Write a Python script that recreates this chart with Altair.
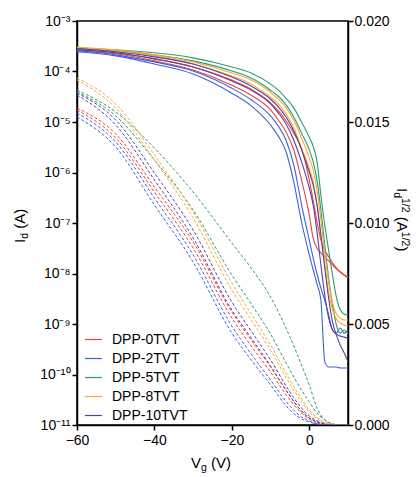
import altair as alt
import pandas as pd

DEVICES = ["DPP-0TVT", "DPP-2TVT", "DPP-5TVT", "DPP-8TVT", "DPP-10TVT"]
COLORS = ["#E8453C", "#3E62D6", "#2E9C6E", "#F2A93B", "#5C3F9E"]

# gate voltage grids (V)
VG_SOLID = [-60, -50, -40, -30, -20, -15, -10, -8, -6, -4, -2, 0, 1, 2, 3, 4, 5, 6, 7, 8, 9, 10]
VG_DASH = [-60, -50, -40, -30, -20, -15, -10, -5, -2, 0, 2, 4, 6, 8, 10]

# log10(Id / A), read from the left (log) axis, two sweeps per device
LOG_0TVT_A = [-3.57, -3.63, -3.75, -3.91, -4.17, -4.35, -4.62, -4.78, -4.98, -5.22, -5.52, -6.15, -6.55, -6.98, -7.34, -7.54, -7.67, -7.79, -7.89, -7.97, -8.03, -8.07]
LOG_0TVT_B = [-3.59, -3.65, -3.79, -3.97, -4.27, -4.47, -4.76, -4.96, -5.20, -5.55, -6.15, -6.84, -7.30, -7.50, -7.59, -7.67, -7.75, -7.83, -7.91, -7.97, -8.03, -8.09]
LOG_2TVT_A = [-3.59, -3.67, -3.81, -3.99, -4.33, -4.56, -4.88, -5.08, -5.36, -5.85, -6.64, -7.34, -7.69, -8.01, -8.29, -8.53, -8.82, -9.12, -9.18, -9.08, -9.18, -9.12]
LOG_2TVT_B = [-3.61, -3.69, -3.85, -4.05, -4.43, -4.68, -5.06, -5.28, -5.59, -6.19, -6.98, -7.63, -7.93, -8.21, -8.53, -9.75, -9.85, -9.85, -9.85, -9.87, -9.87, -9.87]
LOG_5TVT_A = [-3.54, -3.57, -3.63, -3.73, -3.91, -4.03, -4.25, -4.37, -4.53, -4.72, -5.00, -5.30, -5.48, -5.78, -6.45, -7.04, -7.54, -8.03, -8.47, -8.72, -8.80, -8.82]
LOG_5TVT_B = [-3.54, -3.59, -3.67, -3.79, -3.99, -4.13, -4.37, -4.49, -4.66, -4.90, -5.22, -5.55, -5.79, -6.15, -6.74, -7.44, -8.09, -8.62, -9.02, -9.18, -9.12, -9.20]
LOG_8TVT_A = [-3.52, -3.57, -3.67, -3.81, -4.03, -4.17, -4.41, -4.55, -4.72, -4.96, -5.32, -5.71, -5.95, -6.35, -6.94, -7.57, -8.17, -8.58, -8.80, -8.88, -8.92, -8.92]
LOG_8TVT_B = [-3.52, -3.59, -3.69, -3.85, -4.09, -4.25, -4.51, -4.64, -4.84, -5.12, -5.52, -5.91, -6.19, -6.64, -7.24, -7.83, -8.37, -8.72, -8.90, -8.98, -9.02, -9.04]
LOG_10TVT_A = [-3.55, -3.61, -3.71, -3.85, -4.11, -4.29, -4.55, -4.70, -4.90, -5.18, -5.55, -5.99, -6.25, -6.64, -7.24, -7.89, -8.49, -8.96, -9.22, -9.42, -9.57, -9.75]
LOG_10TVT_B = [-3.57, -3.63, -3.75, -3.91, -4.19, -4.37, -4.64, -4.82, -5.04, -5.36, -5.79, -6.31, -6.64, -7.18, -7.83, -8.43, -8.88, -9.12, -9.20, -9.24, -9.26, -9.28]

SQ_0TVT_A = [0.01569, 0.01441, 0.01178, 0.00906, 0.00559, 0.00421, 0.00287, 0.00144, 0.00069, 0.00035, 0.00015, 0.00005, 0.0, 0.0, 0.0]
SQ_0TVT_B = [0.01559, 0.01421, 0.01153, 0.00876, 0.00530, 0.00391, 0.00262, 0.00124, 0.00059, 0.00030, 0.00010, 0.0, 0.0, 0.0, 0.0]
SQ_2TVT_A = [0.01545, 0.01401, 0.01124, 0.00842, 0.00490, 0.00351, 0.00223, 0.00094, 0.00040, 0.00020, 0.00005, 0.0, 0.0, 0.0, 0.0]
SQ_2TVT_B = [0.01525, 0.01376, 0.01089, 0.00807, 0.00455, 0.00322, 0.00198, 0.00074, 0.00030, 0.00015, 0.00005, 0.0, 0.0, 0.0, 0.0]
SQ_5TVT_A = [0.01658, 0.01550, 0.01371, 0.01153, 0.00901, 0.00777, 0.00634, 0.00436, 0.00297, 0.00198, 0.00084, 0.00025, 0.00005, 0.0, 0.0]
SQ_5TVT_B = [0.01649, 0.01530, 0.01312, 0.01064, 0.00743, 0.00599, 0.00450, 0.00272, 0.00173, 0.00114, 0.00059, 0.00025, 0.00005, 0.0, 0.0]
SQ_8TVT_A = [0.01718, 0.01589, 0.01337, 0.01054, 0.00703, 0.00550, 0.00396, 0.00223, 0.00129, 0.00074, 0.00035, 0.00015, 0.00005, 0.0, 0.0]
SQ_8TVT_B = [0.01708, 0.01569, 0.01312, 0.01025, 0.00668, 0.00520, 0.00371, 0.00203, 0.00114, 0.00064, 0.00030, 0.00010, 0.0, 0.0, 0.0]
SQ_10TVT_A = [0.01644, 0.01510, 0.01248, 0.00965, 0.00609, 0.00465, 0.00322, 0.00163, 0.00084, 0.00045, 0.00020, 0.00005, 0.0, 0.0, 0.0]
SQ_10TVT_B = [0.01634, 0.01485, 0.01213, 0.00926, 0.00569, 0.00431, 0.00292, 0.00144, 0.00069, 0.00035, 0.00015, 0.00005, 0.0, 0.0, 0.0]

LOG_SERIES = {
    "DPP-0TVT": (LOG_0TVT_A, LOG_0TVT_B),
    "DPP-2TVT": (LOG_2TVT_A, LOG_2TVT_B),
    "DPP-5TVT": (LOG_5TVT_A, LOG_5TVT_B),
    "DPP-8TVT": (LOG_8TVT_A, LOG_8TVT_B),
    "DPP-10TVT": (LOG_10TVT_A, LOG_10TVT_B),
}
SQ_SERIES = {
    "DPP-0TVT": (SQ_0TVT_A, SQ_0TVT_B),
    "DPP-2TVT": (SQ_2TVT_A, SQ_2TVT_B),
    "DPP-5TVT": (SQ_5TVT_A, SQ_5TVT_B),
    "DPP-8TVT": (SQ_8TVT_A, SQ_8TVT_B),
    "DPP-10TVT": (SQ_10TVT_A, SQ_10TVT_B),
}

LOG_TICKS = [1e-3, 1e-4, 1e-5, 1e-6, 1e-7, 1e-8, 1e-9, 1e-10, 1e-11]
LOG_LABELS = ["10⁻³", "10⁻⁴", "10⁻⁵", "10⁻⁶", "10⁻⁷", "10⁻⁸", "10⁻⁹", "10⁻¹⁰", "10⁻¹¹"]
SQ_TICKS = [0.0, 0.005, 0.010, 0.015, 0.020]
X_TICKS = [-60, -40, -20, 0]

rows_s = []
for dev, pair in LOG_SERIES.items():
    for tag, arr in zip(("A", "B"), pair):
        for vg, e in zip(VG_SOLID, arr):
            rows_s.append({"Vg": vg, "Id": 10 ** e, "device": dev, "series": dev + tag})
df_s = pd.DataFrame(rows_s)

rows_d = []
for dev, pair in SQ_SERIES.items():
    for tag, arr in zip(("A", "B"), pair):
        for vg, v in zip(VG_DASH, arr):
            rows_d.append({"Vg": vg, "sq": v, "device": dev, "series": dev + tag})
df_d = pd.DataFrame(rows_d)

FONT = "Liberation Sans"

xenc = alt.X("Vg:Q", scale=alt.Scale(domain=[-60, 10], nice=False, zero=False),
             axis=alt.Axis(values=X_TICKS, title=None, labelPadding=3, labelFlush=False))

label_expr = "[" + ",".join("'" + s + "'" for s in LOG_LABELS) + "][round(-log(datum.value)/LN10)-3]"

solid = alt.Chart(df_s).mark_line(strokeWidth=1.1, interpolate="monotone", clip=True).encode(
    x=xenc,
    y=alt.Y("Id:Q", scale=alt.Scale(type="log", domain=[1e-11, 1e-3], nice=False),
            axis=alt.Axis(orient="left", values=LOG_TICKS, labelExpr=label_expr, title=None,
                          labelPadding=2, labelFlush=False, labelOverlap=False)),
    color=alt.Color("device:N", scale=alt.Scale(domain=DEVICES, range=COLORS),
                    legend=alt.Legend(title=None, orient="none", legendX=7, legendY=309,
                                      symbolType="stroke", symbolSize=289, symbolStrokeWidth=1.2,
                                      labelFontSize=14, labelFont=FONT, labelColor="black",
                                      labelOffset=9, rowPadding=2, padding=0)),
    detail="series:N",
)

dashed = alt.Chart(df_d).mark_line(strokeWidth=1.0, strokeDash=[3, 2], interpolate="monotone", clip=True).encode(
    x=xenc,
    y=alt.Y("sq:Q", scale=alt.Scale(domain=[0, 0.02], nice=False),
            axis=alt.Axis(orient="right", values=SQ_TICKS, format=".3f", title=None,
                          labelPadding=1, labelFlush=False, labelOverlap=False)),
    color=alt.Color("device:N", scale=alt.Scale(domain=DEVICES, range=COLORS), legend=None),
    detail="series:N",
)


def txt(s, x, y, size, angle=0):
    return alt.Chart(pd.DataFrame({"t": [s]})).mark_text(
        text=s, align="left", baseline="alphabetic", font=FONT, fontSize=size,
        angle=angle, color="black").encode(x=alt.value(x), y=alt.value(y))


titles = [
    # left axis title: I_d (A)
    txt("I", -52, 222, 15, 270),
    txt("d", -49, 217.8, 10.5, 270),
    txt("(A)", -52, 207.8, 15, 270),
    # bottom axis title: V_g (V)
    txt("V", 114, 447, 15),
    txt("g", 124, 450, 10.5),
    txt("(V)", 134, 447, 15),
    # right axis title: I_d^1/2 (A^1/2)
    txt("I", 320, 167, 15, 90),
    txt("d", 317, 171.2, 10.5, 90),
    txt("1/2", 325, 177, 10.5, 90),
    txt("(A", 320, 195.8, 15, 90),
    txt("1/2", 325, 210.8, 10.5, 90),
    txt(")", 320, 225.4, 15, 90),
]

chart = alt.layer(solid, dashed, *titles).resolve_scale(y="independent").properties(
    width=271, height=404,
    padding={"left": 69, "top": 13, "right": 64, "bottom": 52},
    autosize=alt.AutoSizeParams(type="none"),
).configure_axis(
    domainColor="black", domainWidth=1.5, tickColor="black", tickWidth=1.5, tickSize=5,
    labelFont=FONT, labelFontSize=14, labelColor="black", grid=False,
).configure_view(stroke="black", strokeWidth=1.5)

chart.save("out.html", embed_options={"renderer": "svg", "actions": False})
